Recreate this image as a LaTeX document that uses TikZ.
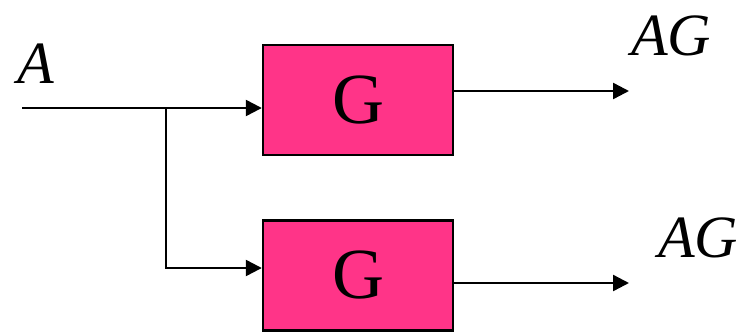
\documentclass[tikz,border=0pt]{standalone}
\usepackage{fontspec}
\setmainfont{Liberation Serif}
\usetikzlibrary{arrows.meta,positioning}
\definecolor{gpink}{RGB}{255,52,136}

\tikzset{
  block/.style={draw, line width=1.2pt, fill=gpink, minimum width=95pt,
    minimum height=55pt, inner sep=0pt, font=\fontsize{36}{40}\selectfont},
  signal/.style={line width=1.2pt, -{Triangle[length=8pt,width=8pt]}},
  lbl/.style={inner sep=0pt, anchor=base, font=\fontsize{30}{36}\selectfont\itshape}
}

\begin{document}
\begin{tikzpicture}[x=0.5pt,y=-0.5pt,node distance=31.5pt]
  \useasboundingbox (0,0) rectangle (749,332);
  \node[block] (gtop) at (358,100) {G};
  \node[block] (gbot) [below = of gtop] {G};

  % input and its branch
  \coordinate (in) at (22,108);
  \coordinate (split) at (166,108);
  \coordinate (down) at (166,268);
  \coordinate (out1) at (629,91);
  \coordinate (out2) at (629,283);
  \node[lbl] (a) at (36,83) {A};
  \node[lbl] (ag1) at (671,55) {AG};
  \node[lbl] (ag2) at (698,257) {AG};

  \draw[signal] (in) -- (in -| gtop.west);
  \draw[signal] (split) -- (down) -- (down -| gbot.west);
  \draw[signal] (out1 -| gtop.east) -- (out1);
  \draw[signal] (out2 -| gbot.east) -- (out2);
\end{tikzpicture}
\end{document}
